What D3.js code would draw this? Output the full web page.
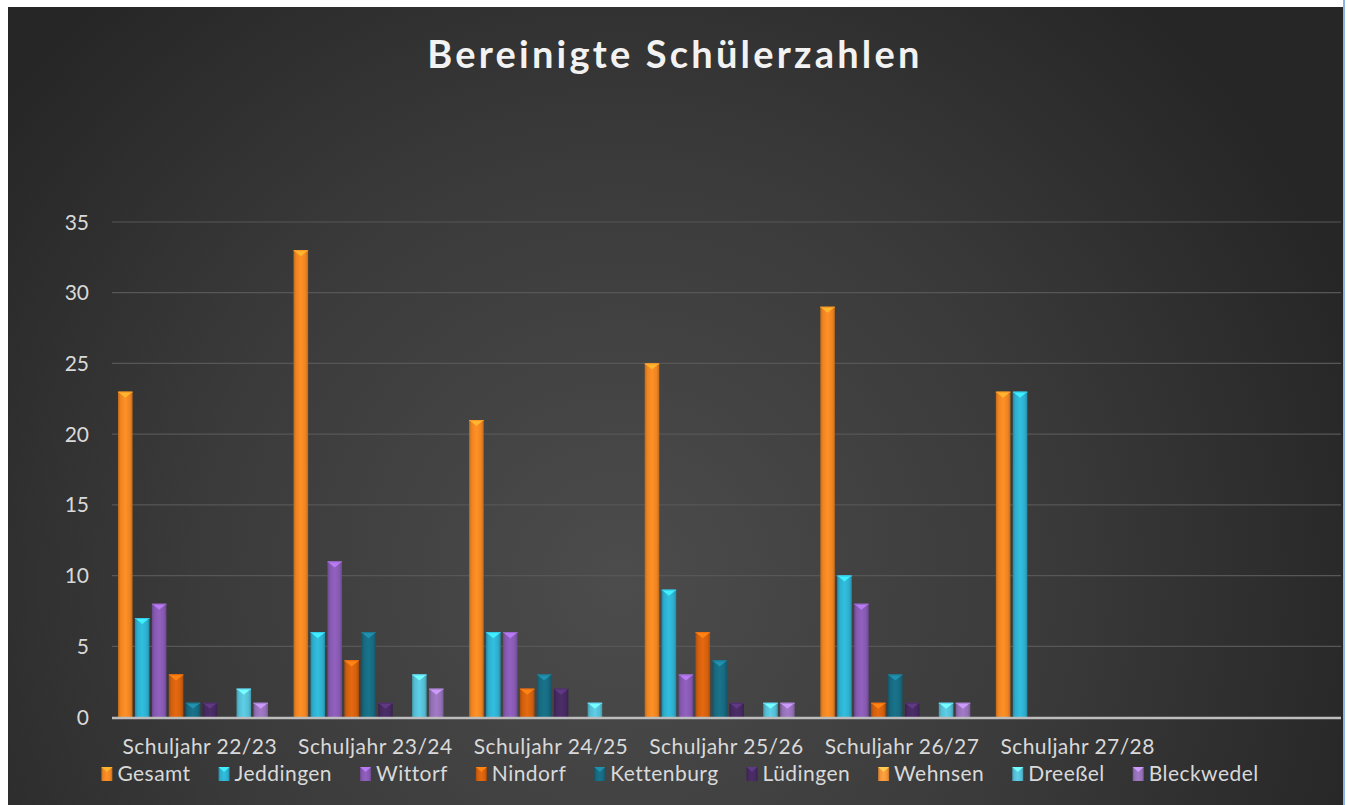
<!DOCTYPE html>
<html><head><meta charset="utf-8">
<script src="https://cdn.jsdelivr.net/npm/d3@7"></script>
<style>html,body{margin:0;padding:0;background:#fff;overflow:hidden}</style>
</head><body>
<svg id="chart" width="1348" height="805"></svg>
<script>
const categories = ["Schuljahr 22/23","Schuljahr 23/24","Schuljahr 24/25","Schuljahr 25/26","Schuljahr 26/27","Schuljahr 27/28",""];
const seriesNames = ["Gesamt","Jeddingen","Wittorf","Nindorf","Kettenburg","Lüdingen","Wehnsen","Dreeßel","Bleckwedel"];
const gesamt     = [23,33,21,25,29,23,0];
const jeddingen  = [7,6,6,9,10,23,0];
const wittorf    = [8,11,6,3,8,0,0];
const nindorf    = [3,4,2,6,1,0,0];
const kettenburg = [1,6,3,4,3,0,0];
const luedingen  = [1,1,2,1,1,0,0];
const wehnsen    = [0,0,0,0,0,0,0];
const dreessel   = [2,3,1,1,1,0,0];
const bleckwedel = [1,2,0,1,1,0,0];
const yTicks = [0,5,10,15,20,25,30,35];
const colors = ["#ee8422","#2eaecd","#8659b0","#d2600e","#17697f","#45295f","#ef9439","#55bdd4","#9470b6"];

const seriesValues = [gesamt,jeddingen,wittorf,nindorf,kettenburg,luedingen,wehnsen,dreessel,bleckwedel];
const FONT = "Lato, 'Open Sans', sans-serif";

const svg = d3.select("#chart");
const W = 1348, H = 805;
const defs = svg.append("defs");

const bg = defs.append("radialGradient").attr("id","bg")
  .attr("gradientUnits","userSpaceOnUse").attr("cx",620).attr("cy",580).attr("r",780);
bg.append("stop").attr("offset","0").attr("stop-color","#4c4c4c");
bg.append("stop").attr("offset","0.55").attr("stop-color","#3a3a3a");
bg.append("stop").attr("offset","1").attr("stop-color","#262626");
svg.append("rect").attr("x",8).attr("y",7).attr("width",1335).attr("height",H-7).attr("fill","url(#bg)");
svg.append("rect").attr("x",1343).attr("y",0).attr("width",2).attr("height",H).attr("fill","#8db3e2");

colors.forEach((c,i)=>{
  const g = defs.append("linearGradient").attr("id","g"+i).attr("x1","0").attr("x2","1").attr("y1","0").attr("y2","0");
  const base = d3.color(c);
  g.append("stop").attr("offset","0").attr("stop-color",base.darker(0.6));
  g.append("stop").attr("offset","0.18").attr("stop-color",base);
  g.append("stop").attr("offset","0.5").attr("stop-color",base.brighter(0.25));
  g.append("stop").attr("offset","0.82").attr("stop-color",base);
  g.append("stop").attr("offset","1").attr("stop-color",base.darker(0.6));
});

const plotLeft = 112, plotRight = 1341, plotTop = 222, plotBottom = 717;
const x0 = d3.scaleBand().domain(categories).range([plotLeft, plotRight]).padding(0);
const x1 = d3.scaleBand().domain(seriesNames).range([6, 156]).paddingInner(0.14).paddingOuter(0);
const y = d3.scaleLinear().domain([0,35]).range([plotBottom, plotTop]);

svg.append("g").selectAll("line").data(yTicks.filter(d=>d>0)).join("line")
  .attr("x1",plotLeft).attr("x2",plotRight)
  .attr("y1",d=>y(d)).attr("y2",d=>y(d))
  .attr("stroke","#575757").attr("stroke-width",1.2);

svg.append("g").selectAll("text").data(yTicks).join("text")
  .attr("x",89).attr("y",d=>y(d)+7.5).attr("text-anchor","end")
  .attr("font-family",FONT).attr("font-size",21).attr("fill","#d9d9d9")
  .text(d=>d);

const bw = x1.bandwidth();
const groups = svg.append("g").selectAll("g").data(categories).join("g")
  .attr("transform",d=>`translate(${x0(d)},0)`);
groups.each(function(cat, ci){
  const g = d3.select(this);
  seriesNames.forEach((s, si)=>{
    const v = seriesValues[si][ci];
    if (!v) return;
    const bx = x1(s), by = y(v);
    g.append("rect").attr("x",bx).attr("y",by).attr("width",bw).attr("height",y(0)-by)
      .attr("fill",`url(#g${si})`);
    const light = d3.color(colors[si]).brighter(0.9);
    g.append("path")
      .attr("d",`M${bx},${by}L${bx+bw},${by}L${bx+bw/2},${by+6}Z`)
      .attr("fill",light);
    g.append("line").attr("x1",bx).attr("x2",bx+bw).attr("y1",by+0.5).attr("y2",by+0.5)
      .attr("stroke",d3.color(colors[si]).brighter(0.4)).attr("stroke-width",1);
  });
});

svg.append("line").attr("x1",plotLeft).attr("x2",plotRight).attr("y1",plotBottom+1).attr("y2",plotBottom+1)
  .attr("stroke","#bdbdbd").attr("stroke-width",2.5);

svg.append("g").selectAll("text").data(categories).join("text")
  .attr("x",d=>x0(d)+x0.bandwidth()/2).attr("y",754).attr("text-anchor","middle")
  .attr("font-family",FONT).attr("font-size",21).attr("letter-spacing",0.45).attr("fill","#d9d9d9")
  .text(d=>d);

svg.append("text").attr("x",675).attr("y",68).attr("text-anchor","middle")
  .attr("font-family",FONT).attr("font-weight","bold").attr("font-size",38)
  .attr("letter-spacing",3.2).attr("fill","#f2f2f2").text("Bereinigte Schülerzahlen");

const leg = svg.append("g");
const items = [];
seriesNames.forEach((s,i)=>{
  const it = leg.append("g");
  it.append("rect").attr("x",0).attr("y",-14).attr("width",11).attr("height",14).attr("fill",`url(#g${i})`);
  it.append("path").attr("d","M0,-14L11,-14L5.5,-9Z").attr("fill",d3.color(colors[i]).brighter(0.9));
  const t = it.append("text").attr("x",16).attr("y",0)
    .attr("font-family",FONT).attr("font-size",21).attr("letter-spacing",0.45).attr("fill","#d9d9d9").text(s);
  const w = 16 + t.node().getComputedTextLength();
  items.push({it, w});
});
const gap = 28;
const total = d3.sum(items, d=>d.w) + gap*(items.length-1);
let startX = 680 - total/2;
items.forEach(d=>{ d.it.attr("transform",`translate(${startX},781)`); startX += d.w + gap; });
</script>
</body></html>
